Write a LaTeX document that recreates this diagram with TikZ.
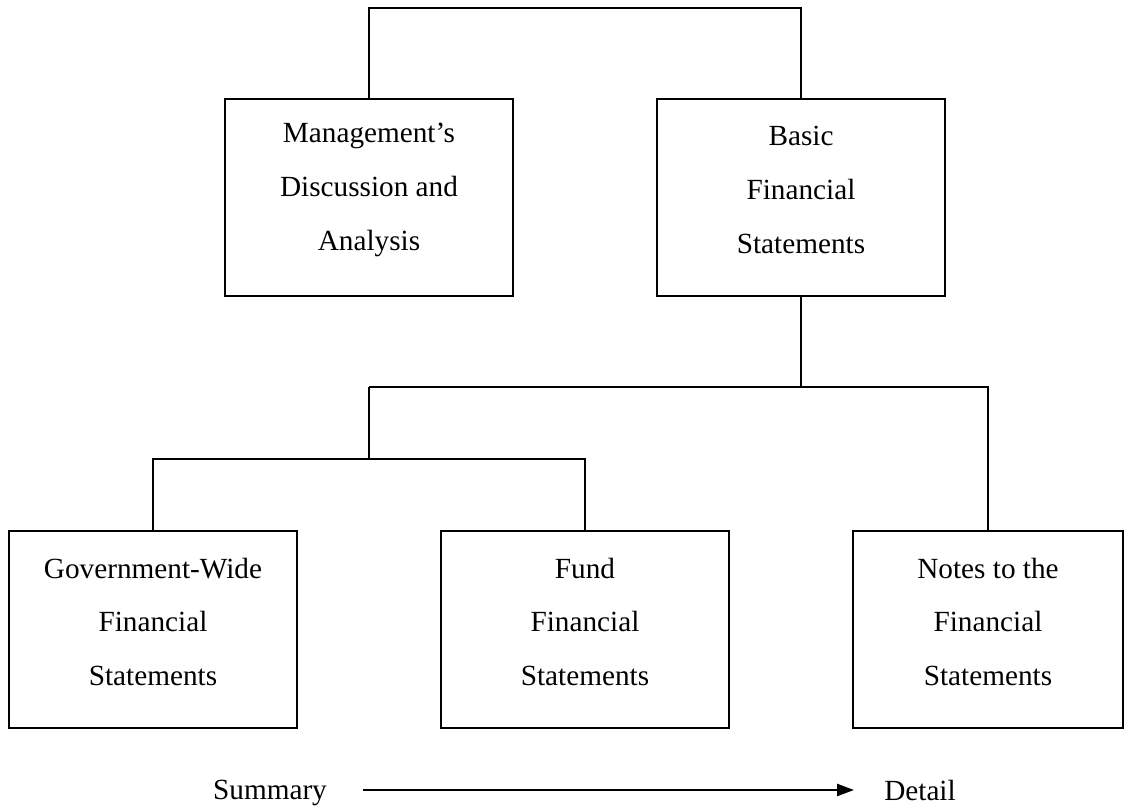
\documentclass[tikz,border=0pt]{standalone}
\usepackage{fontspec}
\setmainfont{Liberation Serif}
\usetikzlibrary{arrows.meta}
\tikzset{>={Triangle[length=0.42cm,width=0.3cm]}}
\tikzset{
  box/.style={draw, line width=1.4pt, minimum width=7.2cm, minimum height=4.925cm, inner sep=0pt},
  boxtext/.style={align=center, font=\fontsize{20.8}{38.4}\selectfont},
  lbl/.style={font=\fontsize{20.8}{25}\selectfont, text depth=0pt, inner sep=0pt},
  conn/.style={line width=1.4pt}
}

\begin{document}
\begin{tikzpicture}
				\useasboundingbox (0,0) rectangle (28.175,20.15);
				% top level
				\node [box] (mda) at (9.225,15.2125) {};
				\node [box] (basic) at (20.025,15.2125) {};
				\node [boxtext] (mdatext) at (9.225,15.4) {Management's\\Discussion and\\Analysis};
				\node [boxtext] (basictext) at (20.025,15.4) {Basic\\Financial\\Statements};
				% bottom level
				\node [box] (gov) at (3.825,4.4125) {};
				\node [box] (fund) at (14.625,4.4125) {};
				\node [box, minimum width=6.75cm] (notes) at (24.7,4.4125) {};
				\node [boxtext] (govtext) at (3.825,4.6) {Government-Wide\\Financial\\Statements};
				\node [boxtext] (fundtext) at (14.625,4.6) {Fund\\Financial\\Statements};
				\node [boxtext] (notestext) at (24.7,4.6) {Notes to the\\Financial\\Statements};
				% connectors
				\coordinate (hub) at (9.225,10.475);
				\coordinate (sub) at (9.225,8.675);
				\draw [conn] (mda.north) -- ++(0,2.25) -| (basic.north);
				\draw [conn] (basic.south) |- (hub);
				\draw [conn] (hub) -| (notes.north);
				\draw [conn] (hub) -- (sub);
				\draw [conn] (gov.north) |- (sub) -| (fund.north);
				% summary to detail
				\node [lbl] (summary) at (6.75,0.4) {Summary};
				\node [lbl] (detail) at (23.0,0.4) {Detail};
				\draw [conn, ->, shorten <=0.9cm, shorten >=0.75cm] (summary.east) -- (detail.west);
\end{tikzpicture}
\end{document}
